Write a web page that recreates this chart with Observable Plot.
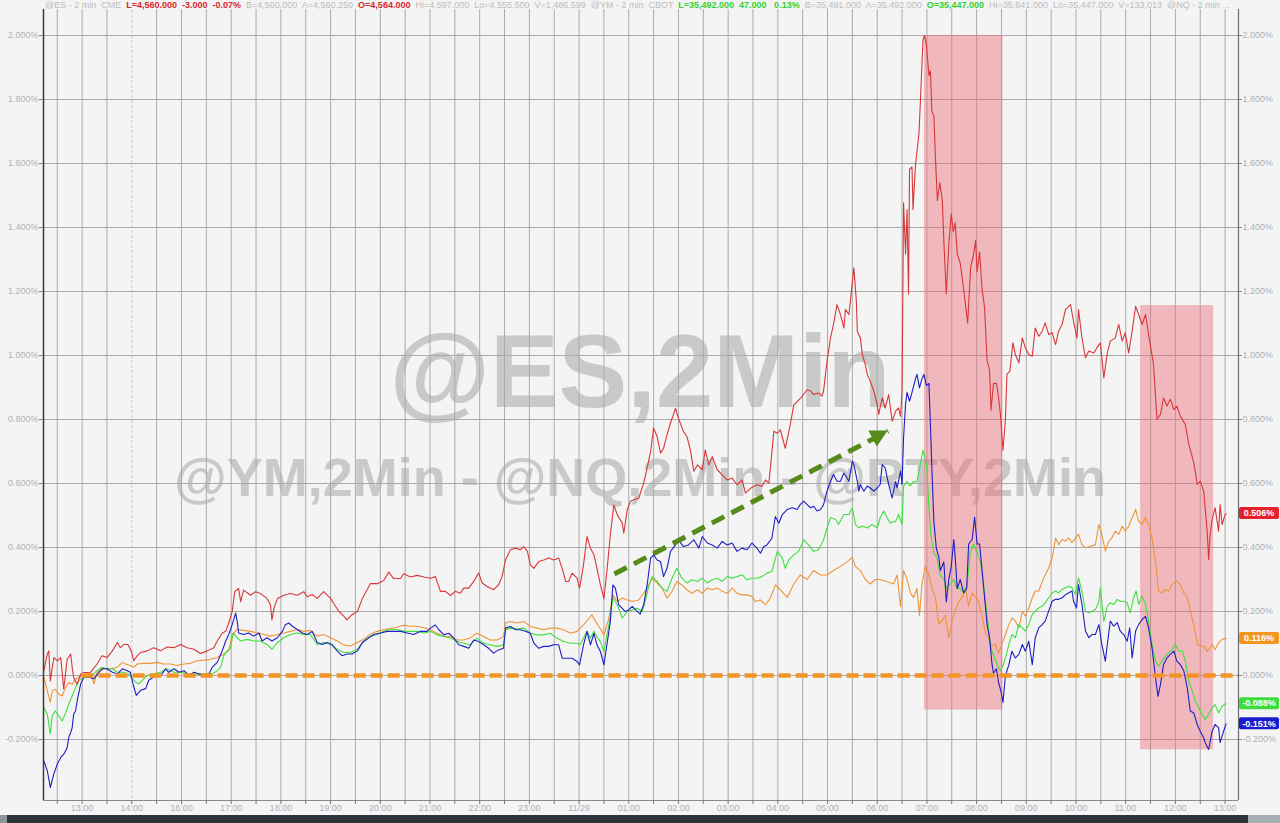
<!DOCTYPE html>
<html><head><meta charset="utf-8">
<script src="https://cdn.jsdelivr.net/npm/d3@7"></script>
<script src="https://cdn.jsdelivr.net/npm/@observablehq/plot@0.6"></script>
<style>
html,body{margin:0;padding:0;background:#f4f4f4;}
#wrap{position:relative;width:1280px;height:823px;background:#f4f4f4;overflow:hidden;font-family:"Liberation Sans",Arial,sans-serif;}
#chart{position:absolute;left:0;top:0;}
#header{position:absolute;left:0;top:0;width:1280px;height:9px;background:#f4f4f4;font-size:9px;line-height:10px;color:#bcbcbc;white-space:pre;padding-left:45px;box-sizing:border-box;overflow:visible;}
#header .r{color:#d8262a;font-weight:bold}
#header .g{color:#33d033;font-weight:bold}
#bar{position:absolute;left:0;top:815px;width:1280px;height:8px;background:#2f343a;}
#bar .l{position:absolute;left:0;top:0;width:7px;height:8px;background:#8d959e;}
#bar .rr{position:absolute;left:1248px;top:0;width:32px;height:8px;background:#a7aeb6;}
</style></head><body>
<div id="wrap"><div id="chart"></div><div id="header"></div><div id="bar"><div class="l"></div><div class="rr"></div></div></div>
<script>
// ---------- data (x = trading-hour index from the first 13:00 label, y = % change) ----------
const hourLabels = ["13:00","14:00","16:00","17:00","18:00","19:00","20:00","21:00","22:00","23:00","11/29","01:00","02:00","03:00","04:00","05:00","06:00","07:00","08:00","09:00","10:00","11:00","12:00","13:00"];
const yTicks = [-0.2,0,0.2,0.4,0.6,0.8,1.0,1.2,1.4,1.6,1.8,2.0];
const xDomain = [-0.777, 23.27];
const yDomain = [-0.3906, 2.1094];

const red = [[-0.77,0.015],[-0.70,0.067],[-0.67,0.077],[-0.64,-0.017],[-0.57,0.056],[-0.50,0.046],[-0.43,0.056],[-0.37,-0.043],[-0.30,0.051],[-0.23,0.067],[-0.20,0.025],[-0.17,-0.006],[-0.10,-0.027],[-0.03,0.004],[0.03,0.009],
[0.17,0.010],[0.30,0.036],[0.40,0.062],[0.50,0.056],[0.61,0.077],[0.71,0.103],[0.77,0.087],[0.84,0.097],[0.92,0.097],[0.99,0.077],[1.04,0.046],[1.11,0.062],[1.18,0.072],[1.31,0.077],[1.44,0.087],[1.58,0.077],[1.71,0.089],[1.85,0.087],[1.98,0.097],[2.11,0.087],[2.25,0.082],[2.38,0.069],[2.52,0.077],[2.65,0.087],[2.72,0.108],[2.82,0.133],[2.89,0.138],[2.95,0.164],[3.02,0.200],[3.07,0.262],[3.15,0.272],[3.19,0.231],[3.25,0.267],[3.39,0.251],[3.49,0.262],[3.59,0.256],[3.72,0.241],[3.79,0.221],[3.82,0.174],[3.86,0.210],[3.93,0.241],[4.06,0.251],[4.19,0.256],[4.33,0.251],[4.46,0.262],[4.53,0.246],[4.63,0.253],[4.73,0.241],[4.86,0.262],[5.00,0.241],[5.06,0.226],[5.17,0.200],[5.27,0.185],[5.33,0.174],[5.43,0.190],[5.54,0.200],[5.64,0.241],[5.80,0.287],[5.94,0.287],[6.07,0.297],[6.17,0.323],[6.27,0.303],[6.41,0.303],[6.47,0.318],[6.61,0.308],[6.74,0.313],[6.88,0.308],
[7.01,0.304],[7.11,0.309],[7.21,0.263],[7.31,0.263],[7.41,0.250],[7.51,0.263],[7.61,0.257],[7.68,0.273],[7.78,0.273],[7.88,0.294],[7.98,0.320],[8.05,0.289],[8.15,0.278],[8.28,0.268],[8.38,0.283],[8.45,0.309],[8.52,0.361],[8.62,0.393],[8.72,0.398],[8.82,0.393],[8.89,0.403],[8.96,0.388],[9.02,0.346],[9.09,0.335],[9.19,0.356],[9.29,0.361],[9.39,0.367],[9.49,0.361],[9.59,0.367],[9.66,0.335],[9.73,0.294],[9.79,0.294],[9.86,0.320],[9.96,0.304],[10.01,0.273],[10.09,0.346],[10.16,0.434],[10.23,0.398],[10.30,0.377],[10.36,0.335],[10.43,0.283],[10.50,0.240],[10.56,0.325],[10.63,0.440],[10.70,0.533],[10.77,0.502],[10.87,0.476],[10.90,0.445],[10.97,0.518],[11.03,0.544],[11.10,0.549],[11.20,0.554],[11.30,0.601],[11.37,0.648],[11.44,0.700],[11.50,0.773],[11.57,0.747],[11.64,0.695],[11.70,0.710],[11.77,0.752],[11.84,0.789],[11.94,0.835],[12.00,0.804],[12.10,0.763],[12.17,0.747],[12.24,0.705],[12.31,0.638],[12.38,0.658],[12.48,0.643],[12.54,0.705],[12.61,0.658],[12.68,0.684],[12.78,0.643],[12.88,0.627],[12.98,0.611],[13.08,0.617],[13.18,0.596],[13.28,0.611],[13.35,0.570],[13.45,0.585],[13.58,0.596],[13.68,0.591],[13.75,0.611],[13.82,0.601],[13.92,0.763],[13.99,0.757],[14.05,0.768],[14.15,0.710],[14.25,0.783],[14.32,0.846],[14.39,0.856],[14.49,0.872],[14.59,0.893],
[14.66,0.889],[14.72,0.878],[14.82,0.883],[14.89,0.873],[14.92,0.889],[14.99,0.982],[15.06,1.055],[15.12,1.097],[15.19,1.159],[15.26,1.128],[15.33,1.086],[15.36,1.144],[15.43,1.128],[15.46,1.170],[15.53,1.274],[15.58,1.170],[15.60,1.076],[15.66,1.055],[15.70,1.003],[15.76,0.972],[15.80,0.941],[15.86,0.920],[15.93,0.889],[16.00,0.847],[16.03,0.816],[16.10,0.868],[16.16,0.836],[16.23,0.878],[16.30,0.795],[16.37,0.826],[16.43,0.836],[16.47,0.810],[16.50,0.889],
[16.53,1.477],[16.57,1.317],[16.60,1.456],[16.63,1.192],[16.65,1.582],[16.70,1.589],[16.72,1.456],[16.77,1.596],[16.84,1.693],[16.87,1.798],[16.92,1.986],[16.95,2.000],[16.99,1.972],[17.04,1.875],[17.07,1.889],[17.10,1.763],[17.14,1.749],[17.17,1.624],[17.21,1.484],[17.26,1.540],[17.31,1.484],[17.34,1.359],[17.39,1.192],[17.44,1.345],[17.49,1.443],[17.53,1.387],[17.57,1.415],[17.61,1.317],[17.67,1.289],[17.74,1.206],[17.82,1.101],[17.88,1.275],[17.94,1.317],[17.98,1.359],[18.01,1.261],[18.06,1.324],[18.11,1.206],[18.16,1.150],[18.21,0.983],[18.26,0.955],[18.29,0.829],[18.34,0.913],[18.40,0.913],[18.44,0.871],[18.48,0.815],[18.53,0.704],
[18.58,0.800],[18.61,0.941],[18.67,0.951],[18.73,1.040],[18.78,1.003],[18.85,0.977],[18.92,1.055],[18.98,1.024],[19.05,1.003],[19.12,0.998],[19.18,1.086],[19.25,1.060],[19.32,1.076],[19.38,1.102],[19.45,1.066],[19.52,1.071],[19.59,1.034],[19.65,1.076],[19.72,1.097],[19.79,1.144],[19.89,1.159],[19.95,1.107],[20.02,1.055],[20.05,1.144],[20.12,1.055],[20.19,0.993],[20.26,1.014],[20.36,1.008],[20.42,1.024],[20.49,1.040],[20.56,0.930],[20.63,1.008],[20.69,1.045],[20.79,1.055],[20.86,1.097],[20.93,1.045],[20.99,1.071],[21.06,1.008],[21.13,1.076],[21.20,1.154],[21.26,1.128],[21.33,1.097],[21.40,1.128],[21.46,1.066],[21.56,0.972],[21.63,0.800],[21.70,0.816],[21.76,0.868],[21.83,0.842],[21.90,0.863],[21.97,0.831],[22.03,0.842],[22.10,0.810],[22.20,0.784],[22.27,0.722],[22.37,0.665],[22.44,0.597],[22.50,0.607],[22.57,0.576],[22.64,0.451],[22.67,0.363],[22.70,0.441],[22.74,0.488],[22.80,0.524],[22.87,0.451],[22.90,0.534],[22.94,0.472],[23.00,0.503],[23.02,0.506]];

const blue = [[-0.77,-0.267],[-0.70,-0.298],[-0.64,-0.350],[-0.57,-0.308],[-0.50,-0.277],[-0.43,-0.256],[-0.37,-0.246],[-0.33,-0.235],[-0.30,-0.225],[-0.27,-0.194],[-0.23,-0.178],[-0.20,-0.163],[-0.17,-0.121],[-0.13,-0.110],[-0.10,-0.079],[-0.03,-0.027],[0.03,-0.006],
[0.14,-0.005],[0.24,-0.010],[0.34,0.010],[0.40,0.021],[0.50,0.021],[0.61,0.010],[0.71,0.005],[0.81,0.021],[0.91,0.015],[0.97,0.010],[1.04,-0.036],[1.09,-0.062],[1.18,-0.046],[1.28,-0.041],[1.34,-0.015],[1.44,-0.005],[1.51,0],[1.61,0.005],[1.68,0.021],[1.74,0.010],[1.85,0.021],[1.95,0.010],[2.05,0.015],[2.15,0],[2.25,0.010],[2.35,0.005],[2.45,0],[2.55,0.005],[2.62,0.026],[2.72,0.041],[2.82,0.077],[2.89,0.108],[2.95,0.128],[3.02,0.159],[3.09,0.195],[3.12,0.169],[3.15,0.133],[3.25,0.128],[3.35,0.133],[3.45,0.123],[3.56,0.133],[3.62,0.108],[3.72,0.118],[3.82,0.108],[3.93,0.118],[4.03,0.138],[4.09,0.159],[4.16,0.164],[4.23,0.154],[4.33,0.144],[4.43,0.133],[4.53,0.128],[4.63,0.138],[4.73,0.103],[4.83,0.097],[4.93,0.103],[5.03,0.097],[5.13,0.077],[5.23,0.062],[5.33,0.067],[5.43,0.067],[5.54,0.077],[5.64,0.103],[5.77,0.118],[5.87,0.128],[6.00,0.133],[6.14,0.138],[6.27,0.138],[6.41,0.138],[6.54,0.133],[6.67,0.128],[6.81,0.138],[6.94,0.138],
[7.01,0.148],[7.11,0.158],[7.18,0.143],[7.28,0.127],[7.38,0.132],[7.48,0.117],[7.58,0.096],[7.68,0.091],[7.78,0.085],[7.88,0.111],[7.98,0.106],[8.08,0.096],[8.18,0.085],[8.28,0.070],[8.38,0.080],[8.48,0.085],[8.52,0.148],[8.62,0.153],[8.72,0.143],[8.82,0.143],[8.92,0.138],[9.02,0.132],[9.09,0.101],[9.19,0.085],[9.29,0.091],[9.39,0.091],[9.49,0.096],[9.59,0.096],[9.66,0.054],[9.76,0.054],[9.86,0.054],[9.96,0.044],[10.01,0.033],[10.09,0.096],[10.16,0.138],[10.23,0.096],[10.30,0.132],[10.36,0.096],[10.43,0.075],[10.50,0.033],[10.56,0.096],[10.63,0.169],[10.68,0.283],[10.73,0.273],[10.80,0.221],[10.87,0.210],[10.93,0.200],[11.00,0.205],[11.07,0.216],[11.14,0.205],[11.23,0.192],[11.30,0.221],[11.37,0.283],[11.44,0.367],[11.50,0.377],[11.57,0.361],[11.64,0.356],[11.70,0.309],[11.77,0.335],[11.84,0.388],[11.94,0.408],[12.00,0.424],[12.10,0.403],[12.20,0.408],[12.31,0.424],[12.41,0.398],[12.48,0.434],[12.58,0.414],[12.68,0.408],[12.78,0.398],[12.88,0.419],[12.98,0.408],[13.08,0.414],[13.18,0.388],[13.28,0.398],[13.38,0.393],[13.48,0.414],[13.58,0.398],[13.65,0.382],[13.72,0.403],[13.78,0.408],[13.88,0.429],[13.95,0.497],[14.02,0.476],
[14.09,0.503],[14.19,0.519],[14.29,0.524],[14.39,0.519],[14.45,0.534],[14.52,0.545],[14.59,0.534],[14.66,0.524],[14.72,0.529],[14.79,0.514],[14.86,0.519],[14.92,0.534],[14.99,0.576],[15.06,0.607],[15.12,0.628],[15.19,0.607],[15.26,0.607],[15.33,0.633],[15.43,0.607],[15.50,0.670],[15.53,0.659],[15.60,0.607],[15.63,0.576],[15.66,0.597],[15.73,0.576],[15.80,0.592],[15.86,0.586],[15.93,0.576],[16.00,0.586],[16.06,0.597],[16.10,0.659],[16.16,0.649],[16.23,0.597],[16.30,0.555],[16.37,0.607],[16.40,0.586],[16.47,0.639],[16.50,0.597],[16.53,0.743],[16.57,0.847],[16.60,0.885],[16.65,0.857],[16.70,0.885],[16.77,0.927],[16.80,0.941],[16.85,0.899],[16.90,0.927],[16.94,0.941],[16.99,0.906],[17.04,0.913],[17.07,0.787],[17.10,0.648],[17.14,0.481],[17.19,0.397],[17.24,0.369],[17.27,0.328],[17.34,0.355],[17.39,0.230],[17.44,0.300],[17.49,0.341],[17.54,0.425],[17.57,0.369],[17.61,0.272],[17.67,0.300],[17.74,0.258],[17.80,0.272],[17.84,0.411],[17.91,0.425],[17.96,0.495],[18.01,0.411],[18.06,0.411],[18.11,0.328],[18.16,0.244],[18.21,0.160],[18.26,0.118],[18.31,0.035],[18.34,0.007],[18.40,0.021],[18.44,-0.021],[18.49,-0.049],[18.53,-0.084],[18.58,0.000],
[18.65,0.034],[18.71,0.076],[18.78,0.055],[18.85,0.066],[18.92,0.097],[18.98,0.076],[19.05,0.107],[19.12,0.034],[19.18,0.118],[19.25,0.149],[19.32,0.159],[19.38,0.170],[19.45,0.201],[19.52,0.232],[19.59,0.238],[19.65,0.238],[19.72,0.243],[19.79,0.253],[19.85,0.258],[19.92,0.264],[19.95,0.232],[20.01,0.211],[20.05,0.284],[20.12,0.222],[20.19,0.139],[20.26,0.118],[20.32,0.128],[20.39,0.128],[20.46,0.159],[20.52,0.097],[20.59,0.045],[20.63,0.097],[20.69,0.170],[20.76,0.154],[20.83,0.165],[20.89,0.139],[20.96,0.128],[21.03,0.107],[21.08,0.149],[21.13,0.055],[21.20,0.139],[21.26,0.159],[21.33,0.175],[21.40,0.185],[21.46,0.149],[21.53,0.086],[21.60,-0.007],[21.65,-0.065],[21.70,-0.028],[21.76,0.034],[21.83,0.055],[21.90,0.066],[21.97,0.076],[22.03,0.045],[22.10,0.034],[22.17,0.014],[22.24,-0.039],[22.30,-0.111],[22.37,-0.117],[22.44,-0.153],[22.50,-0.174],[22.57,-0.195],[22.60,-0.210],[22.67,-0.231],[22.74,-0.174],[22.80,-0.153],[22.87,-0.164],[22.90,-0.210],[22.97,-0.174],[23.02,-0.151]];

const green = [[-0.77,-0.100],[-0.70,-0.121],[-0.64,-0.183],[-0.60,-0.126],[-0.54,-0.110],[-0.47,-0.126],[-0.40,-0.142],[-0.33,-0.116],[-0.27,-0.090],[-0.20,-0.064],[-0.13,-0.037],[-0.07,-0.017],[0.00,-0.008],
[0.17,-0.005],[0.30,0.015],[0.40,0.026],[0.50,0.021],[0.61,0.021],[0.71,0.010],[0.84,0.010],[0.94,0.005],[1.01,-0.010],[1.08,-0.021],[1.14,-0.026],[1.21,-0.015],[1.31,0],[1.44,0.005],[1.58,0.010],[1.71,0.021],[1.85,0.010],[1.98,0.010],[2.11,0.005],[2.25,0.005],[2.38,0.005],[2.52,0.005],[2.62,0.005],[2.72,0.015],[2.79,0.026],[2.85,0.062],[2.92,0.077],[2.99,0.087],[3.04,0.133],[3.12,0.118],[3.19,0.108],[3.32,0.113],[3.45,0.108],[3.59,0.108],[3.72,0.097],[3.82,0.082],[3.93,0.103],[4.06,0.118],[4.19,0.128],[4.33,0.133],[4.46,0.128],[4.59,0.128],[4.73,0.097],[4.86,0.103],[5.00,0.097],[5.13,0.082],[5.27,0.072],[5.40,0.072],[5.54,0.082],[5.67,0.108],[5.80,0.123],[5.94,0.128],[6.07,0.138],[6.20,0.144],[6.34,0.144],[6.47,0.138],[6.61,0.138],[6.74,0.138],[6.88,0.133],
[7.01,0.138],[7.14,0.127],[7.28,0.122],[7.41,0.117],[7.55,0.106],[7.68,0.101],[7.81,0.096],[7.94,0.117],[8.08,0.101],[8.21,0.096],[8.35,0.091],[8.48,0.096],[8.52,0.143],[8.62,0.148],[8.75,0.146],[8.89,0.148],[9.02,0.132],[9.15,0.127],[9.29,0.127],[9.42,0.132],[9.55,0.117],[9.69,0.106],[9.83,0.101],[9.96,0.101],[10.02,0.096],[10.09,0.117],[10.16,0.138],[10.23,0.117],[10.30,0.138],[10.36,0.122],[10.43,0.106],[10.50,0.075],[10.60,0.158],[10.68,0.242],[10.77,0.221],[10.87,0.179],[10.97,0.200],[11.07,0.205],[11.17,0.210],[11.27,0.200],[11.34,0.236],[11.40,0.278],[11.47,0.309],[11.57,0.294],[11.67,0.273],[11.77,0.263],[11.87,0.304],[11.97,0.335],[12.07,0.304],[12.17,0.289],[12.27,0.299],[12.38,0.294],[12.48,0.304],[12.58,0.289],[12.68,0.299],[12.78,0.304],[12.88,0.294],[12.98,0.309],[13.08,0.304],[13.18,0.309],[13.28,0.315],[13.38,0.299],[13.48,0.304],[13.58,0.304],[13.68,0.309],[13.78,0.320],[13.88,0.325],[13.99,0.388],[14.09,0.367],[14.15,0.335],[14.22,0.361],[14.32,0.377],[14.42,0.388],[14.52,0.424],[14.62,0.408],[14.72,0.388],[14.82,0.393],[14.92,0.424],
[14.99,0.461],[15.06,0.493],[15.16,0.488],[15.22,0.472],[15.33,0.503],[15.43,0.503],[15.50,0.524],[15.56,0.472],[15.63,0.461],[15.70,0.467],[15.80,0.461],[15.90,0.472],[16.00,0.461],[16.06,0.493],[16.13,0.514],[16.20,0.493],[16.26,0.477],[16.37,0.482],[16.43,0.503],[16.50,0.472],
[16.53,0.592],[16.60,0.606],[16.66,0.592],[16.73,0.606],[16.80,0.606],[16.87,0.662],[16.92,0.704],[16.97,0.676],[17.00,0.648],[17.04,0.523],[17.08,0.439],[17.14,0.383],[17.20,0.369],[17.27,0.314],[17.34,0.300],[17.40,0.272],[17.47,0.286],[17.54,0.300],[17.61,0.272],[17.67,0.272],[17.74,0.258],[17.81,0.286],[17.87,0.383],[17.94,0.411],[18.01,0.383],[18.08,0.355],[18.14,0.286],[18.21,0.188],[18.28,0.091],[18.34,0.063],[18.41,0.035],[18.48,0.014],[18.54,0.035],
[18.58,0.055],[18.65,0.097],[18.71,0.128],[18.78,0.118],[18.85,0.159],[18.92,0.149],[18.98,0.139],[19.05,0.159],[19.12,0.191],[19.18,0.201],[19.25,0.211],[19.32,0.217],[19.38,0.227],[19.45,0.243],[19.52,0.258],[19.59,0.264],[19.65,0.258],[19.72,0.269],[19.79,0.274],[19.85,0.279],[19.92,0.274],[19.99,0.253],[20.05,0.305],[20.12,0.264],[20.19,0.201],[20.26,0.196],[20.32,0.201],[20.39,0.206],[20.46,0.232],[20.49,0.274],[20.56,0.170],[20.63,0.217],[20.69,0.227],[20.76,0.222],[20.83,0.238],[20.89,0.232],[20.96,0.232],[21.03,0.227],[21.09,0.196],[21.16,0.243],[21.21,0.264],[21.26,0.222],[21.33,0.248],[21.40,0.222],[21.46,0.170],[21.53,0.097],[21.60,0.045],[21.66,0.029],[21.73,0.045],[21.80,0.060],[21.87,0.071],[21.93,0.081],[22.00,0.097],[22.07,0.076],[22.14,0.076],[22.20,0.045],[22.27,-0.018],[22.34,-0.049],[22.40,-0.080],[22.47,-0.101],[22.54,-0.122],[22.60,-0.138],[22.67,-0.122],[22.74,-0.101],[22.80,-0.091],[22.87,-0.117],[22.94,-0.096],[23.02,-0.088]];

const orange = [[-0.77,-0.006],[-0.70,-0.048],[-0.64,-0.084],[-0.60,-0.048],[-0.54,-0.043],[-0.47,-0.058],[-0.40,-0.064],[-0.33,-0.037],[-0.27,-0.022],[-0.20,-0.027],[-0.13,-0.011],[0.00,-0.001],
[0.17,0.005],[0.24,-0.026],[0.30,0.010],[0.44,0.021],[0.57,0.021],[0.71,0.026],[0.81,0.041],[0.87,0.036],[0.97,0.031],[1.04,0.026],[1.11,0.036],[1.24,0.038],[1.38,0.038],[1.51,0.041],[1.64,0.036],[1.78,0.036],[1.91,0.031],[2.05,0.036],[2.18,0.038],[2.31,0.046],[2.45,0.048],[2.58,0.051],[2.72,0.056],[2.85,0.067],[2.95,0.077],[3.02,0.128],[3.12,0.144],[3.25,0.141],[3.39,0.138],[3.52,0.133],[3.66,0.128],[3.79,0.123],[3.93,0.128],[4.06,0.133],[4.19,0.138],[4.33,0.144],[4.46,0.138],[4.59,0.141],[4.73,0.123],[4.86,0.128],[5.00,0.118],[5.13,0.108],[5.27,0.095],[5.40,0.092],[5.54,0.103],[5.67,0.113],[5.80,0.130],[5.94,0.138],[6.07,0.144],[6.20,0.147],[6.34,0.151],[6.47,0.157],[6.61,0.154],[6.74,0.154],[6.88,0.149],
[7.01,0.143],[7.14,0.132],[7.28,0.122],[7.41,0.122],[7.55,0.111],[7.68,0.111],[7.81,0.117],[7.94,0.132],[8.08,0.122],[8.21,0.111],[8.35,0.111],[8.48,0.122],[8.52,0.164],[8.62,0.169],[8.75,0.164],[8.89,0.169],[9.02,0.153],[9.15,0.148],[9.29,0.143],[9.42,0.148],[9.55,0.148],[9.69,0.143],[9.83,0.132],[9.96,0.138],[10.09,0.158],[10.20,0.179],[10.26,0.190],[10.33,0.169],[10.40,0.153],[10.50,0.127],[10.60,0.179],[10.68,0.252],[10.77,0.231],[10.87,0.242],[10.97,0.236],[11.07,0.231],[11.20,0.236],[11.30,0.257],[11.37,0.273],[11.47,0.304],[11.57,0.289],[11.67,0.273],[11.77,0.242],[11.87,0.263],[11.97,0.294],[12.07,0.283],[12.17,0.268],[12.27,0.257],[12.38,0.268],[12.48,0.257],[12.58,0.273],[12.68,0.268],[12.78,0.273],[12.88,0.263],[12.98,0.257],[13.08,0.273],[13.18,0.257],[13.28,0.252],[13.38,0.252],[13.48,0.247],[13.55,0.231],[13.65,0.236],[13.75,0.221],[13.85,0.242],[13.95,0.283],[14.02,0.273],
[14.19,0.244],[14.32,0.286],[14.45,0.314],[14.59,0.300],[14.72,0.328],[14.86,0.314],[14.99,0.314],[15.12,0.328],[15.26,0.341],[15.39,0.355],[15.50,0.369],[15.56,0.341],[15.66,0.328],[15.76,0.300],[15.86,0.286],[15.96,0.300],[16.06,0.300],[16.20,0.293],[16.33,0.286],[16.40,0.314],[16.47,0.216],[16.53,0.328],[16.60,0.300],[16.67,0.258],[16.73,0.244],[16.80,0.272],[16.85,0.188],[16.90,0.286],[16.97,0.341],[17.04,0.314],[17.10,0.272],[17.17,0.244],[17.24,0.160],[17.31,0.174],[17.37,0.188],[17.44,0.118],[17.51,0.174],[17.57,0.202],[17.64,0.230],[17.71,0.244],[17.78,0.272],[17.84,0.216],[17.91,0.258],[17.98,0.244],[18.04,0.230],[18.11,0.188],[18.18,0.132],[18.24,0.118],[18.31,0.091],[18.38,0.098],[18.44,0.070],[18.51,0.098],
[18.58,0.128],[18.65,0.159],[18.71,0.180],[18.78,0.170],[18.85,0.149],[18.92,0.201],[18.98,0.185],[19.05,0.211],[19.12,0.243],[19.18,0.264],[19.25,0.264],[19.35,0.305],[19.45,0.336],[19.52,0.368],[19.59,0.430],[19.65,0.409],[19.72,0.425],[19.79,0.420],[19.85,0.430],[19.92,0.415],[19.99,0.430],[20.05,0.441],[20.12,0.409],[20.19,0.399],[20.29,0.404],[20.39,0.409],[20.46,0.472],[20.52,0.441],[20.59,0.389],[20.66,0.420],[20.72,0.430],[20.79,0.451],[20.86,0.441],[20.93,0.467],[20.99,0.451],[21.06,0.467],[21.13,0.493],[21.20,0.519],[21.26,0.482],[21.33,0.472],[21.40,0.493],[21.46,0.472],[21.53,0.430],[21.60,0.357],[21.66,0.264],[21.73,0.258],[21.80,0.269],[21.87,0.264],[21.93,0.284],[22.03,0.295],[22.10,0.284],[22.17,0.258],[22.24,0.243],[22.30,0.201],[22.37,0.159],[22.44,0.097],[22.50,0.092],[22.57,0.092],[22.64,0.076],[22.70,0.086],[22.74,0.097],[22.80,0.081],[22.87,0.102],[22.94,0.113],[23.02,0.116]];

const zones = [{t1:16.95, t2:18.53, v1:-0.108, v2:2.0},{t1:21.30, t2:22.77, v1:-0.232, v2:1.156}];
const zeroLine = [{from:0, to:23.27, v:0}];
const arrowLine = [{t1:10.71, v1:0.317, t2:16.22, v2:0.764}];
const tags = [{v:0.506, label:"0.506%", color:"#e3202b"},{v:0.116, label:"0.116%", color:"#f2961f"},{v:-0.088, label:"-0.088%", color:"#3ddc3d"},{v:-0.151, label:"-0.151%", color:"#1c1ccf"}];
const watermarks = [{text:"@ES,2Min", size:103, base:407},{text:"@YM,2Min - @NQ,2Min - @RTY,2Min", size:54, base:496}];
const headerParts = [
 ["@ES - 2 min  CME  ","n"],["L=4,560.000  -3.000  -0.07%  ","r"],["B=4,560.000  A=4,560.250  ","n"],["O=4,564.000  ","r"],
 ["Hi=4,597.000  Lo=4,555.500  V=1,486,599  @YM - 2 min  CBOT  ","n"],["L=35,492.000  47.000   0.13%  ","g"],
 ["B=35,491.000  A=35,492.000  ","n"],["O=35,447.000  ","g"],["Hi=35,641.000  Lo=35,447.000  V=133,013  @NQ - 2 min ...","n"]];

// ---------- chart ----------
const halfHours = d3.range(-1, 47).map(i => i / 2);
const fmt = d => d.toFixed(3) + "%";
const X = d => d[0], Y = d => d[1];
const axisText = "#aeb1b8";

const plot = Plot.plot({
  width: 1280, height: 815,
  marginLeft: 43, marginRight: 42, marginTop: 0, marginBottom: 15,
  style: {background: "transparent", fontFamily: "'Liberation Sans', Arial, sans-serif", fontSize: "9px", overflow: "visible"},
  x: {domain: xDomain},
  y: {domain: yDomain},
  marks: [
    Plot.gridX(halfHours.filter(h => h !== 1), {stroke: "#aaaaaa", strokeOpacity: 1}),
    Plot.gridX([1], {stroke: "#c9c9c9", strokeOpacity: 1, strokeDasharray: "3,2"}),
    Plot.gridY(yTicks, {stroke: "#aaaaaa", strokeOpacity: 1}),
    Plot.rect(zones, {x1: "t1", x2: "t2", y1: "v1", y2: "v2", fill: "#eb6e78", fillOpacity: 0.45}),
    Plot.line(orange, {x: X, y: Y, stroke: "#ef9436", strokeWidth: 1.1}),
    Plot.line(green, {x: X, y: Y, stroke: "#3ee03e", strokeWidth: 1.1}),
    Plot.line(blue, {x: X, y: Y, stroke: "#1e1ec4", strokeWidth: 1.1}),
    Plot.line(red, {x: X, y: Y, stroke: "#d8373a", strokeWidth: 1.1}),
    Plot.ruleY(zeroLine, {y: "v", x1: "from", x2: "to", stroke: "#f39426", strokeWidth: 4.5, strokeDasharray: "12,5"}),
    Plot.link(arrowLine, {x1: "t1", y1: "v1", x2: "t2", y2: "v2", stroke: "#568a1a", strokeWidth: 5, strokeDasharray: "14,8"}),
    Plot.ruleX([xDomain[0]], {stroke: "#3a3a3a", strokeWidth: 1.5}),
    Plot.ruleX([xDomain[1]], {stroke: "#6d6d6d", strokeWidth: 1.2}),
    Plot.ruleY([yDomain[0]], {stroke: "#8a8a8a", strokeWidth: 1.2}),
    Plot.axisY({anchor: "left", ticks: yTicks, tickFormat: fmt, tickSize: 4, tickPadding: 1, fill: axisText, stroke: "#888"}),
    Plot.axisY({anchor: "right", ticks: yTicks, tickFormat: fmt, tickSize: 3, tickPadding: 1, fill: axisText, stroke: "#888"}),
    Plot.axisX({ticks: halfHours.filter(h => h >= -0.5), tickFormat: () => "", tickSize: 4, stroke: "#777"}),
    Plot.axisX({ticks: d3.range(0, hourLabels.length), tickFormat: i => hourLabels[i], tickSize: 0, tickPadding: 4, fill: axisText})
  ]
});

const svg = d3.select(plot);
const sx = plot.scale("x"), sy = plot.scale("y");

// watermark behind everything
const wm = svg.insert("g", ":first-child");
watermarks.forEach(w => {
  wm.append("text").attr("x", 640).attr("y", w.base).attr("text-anchor", "middle")
    .attr("font-family", "'Liberation Sans', Arial, sans-serif").attr("font-weight", "bold")
    .attr("font-size", w.size).attr("fill", "#c9c9c9").text(w.text);
});

// filled arrow head at end of the dashed arrow
arrowLine.forEach(a => {
  const x1 = sx.apply(a.t1), y1 = sy.apply(a.v1), x2 = sx.apply(a.t2), y2 = sy.apply(a.v2);
  const L = Math.hypot(x2 - x1, y2 - y1), ux = (x2 - x1) / L, uy = (y2 - y1) / L;
  const hl = 17, hw = 9;
  const bx = x2 - ux * hl, by = y2 - uy * hl;
  svg.append("polygon")
    .attr("points", [[x2, y2], [bx - uy * hw, by + ux * hw], [bx + uy * hw, by - ux * hw]].map(p => p.join(",")).join(" "))
    .attr("fill", "#568a1a");
});

// last-value tags on the right axis
tags.forEach(t => {
  const y = sy.apply(t.v);
  const g = svg.append("g");
  g.append("rect").attr("x", 1239).attr("y", y - 6).attr("width", 40).attr("height", 12).attr("rx", 2).attr("fill", t.color);
  g.append("text").attr("x", 1259).attr("y", y + 3.3).attr("text-anchor", "middle")
    .attr("font-family", "'Liberation Sans', Arial, sans-serif").attr("font-weight", "bold").attr("font-size", 9)
    .attr("fill", "#ffffff").text(t.label);
});

document.getElementById("chart").appendChild(plot);

const hdr = d3.select("#header");
headerParts.forEach(([txt, cls]) => hdr.append("span").attr("class", cls).text(txt));
</script>
</body></html>
